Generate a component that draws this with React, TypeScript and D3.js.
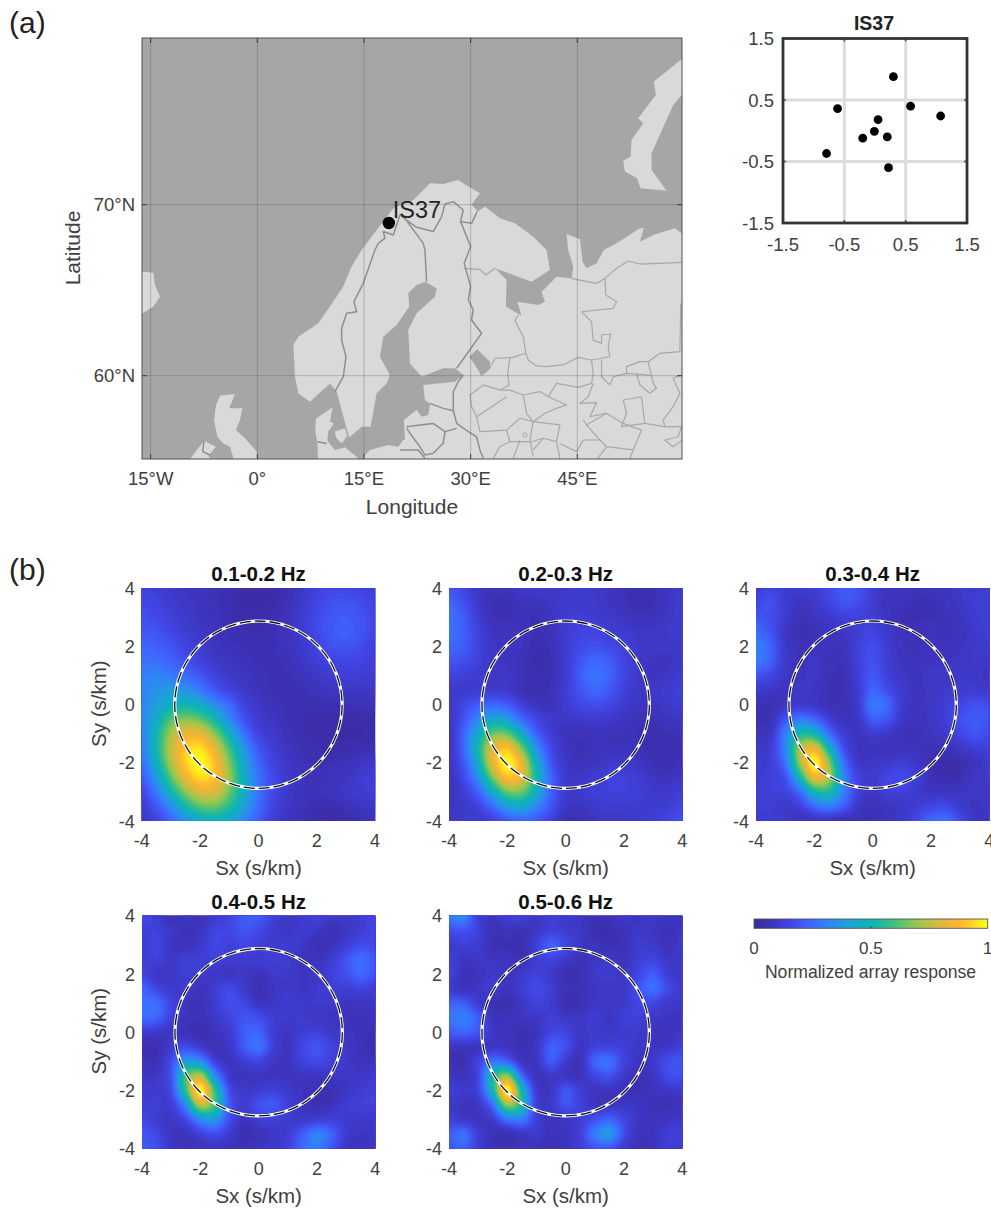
import React, { useMemo } from "react";
import * as d3 from "d3";

type P = [number, number];

// ---------- map data (lon, lat) ----------
const mainlandCoast: P[] = [
  [5.06, 61.79], [5.76, 62.28], [8.58, 63.06], [10.22, 64.04], [12.09, 65.21], [13.26, 66.38], [14.67, 67.35],
  [19.12, 69.79], [21.93, 70.28], [24.28, 71.25], [26.15, 71.21], [28.26, 71.45], [29.67, 71.06], [31.31, 70.67],
  [30.13, 69.99], [31.07, 69.6], [32.01, 69.89], [34.12, 69.21], [36.23, 68.91], [38.8, 68.13], [40.68, 67.35],
  [41.15, 66.18], [38.57, 65.5], [33.42, 66.28], [35.06, 65.6], [34.96, 64.04], [37.16, 63.51], [36.55, 64.33],
  [39.51, 64.13], [40.44, 64.33], [39.98, 64.91], [42.08, 65.79], [44.19, 65.69], [44.43, 66.38], [43.72, 67.35],
  [43.49, 68.29], [45.36, 67.98], [45.6, 67.2], [45.74, 66.67], [46.3, 66.28], [47.71, 66.57], [48.74, 67.35],
  [50.52, 67.74], [53.8, 68.62], [54.36, 68.62], [53.8, 67.84], [55.67, 68.23], [58.72, 68.62], [59.8, 68.29],
  [61, 68], [61, 54], [14.5, 54], [14.9, 55.23], [15.84, 55.65], [18.42, 55.95], [19.82, 55.85], [20.53, 56.24],
  [20.76, 56.24], [20.62, 57.41], [22.4, 57.99], [23.11, 57.6], [24.04, 57.7], [24.28, 58.38], [23.57, 58.58],
  [23.34, 59.46], [27.79, 59.65], [28.96, 60.04], [27.79, 60.43], [26.15, 60.43], [23.11, 59.94], [21.47, 60.72],
  [21.23, 62.67], [22.4, 63.65], [24.98, 64.62], [25.21, 65.11], [23.57, 65.5], [22.4, 65.3], [21.23, 64.82],
  [21.37, 64.04], [19.59, 62.96], [17.71, 62.28], [17.25, 61.11], [18.65, 60.04], [18.18, 59.55], [16.78, 58.97],
  [15.93, 57.02], [14.67, 57.02], [12.93, 56.39], [12.56, 56.92], [11.15, 59.07], [10.22, 59.55], [7.4, 58.48],
  [5.76, 58.97], [5.3, 59.94],
];
const iceland: P[] = [[-18, 66.1], [-16.12, 66.08], [-14.62, 66.02], [-14.39, 65.3], [-13.68, 64.62], [-14.62, 64.04], [-16.12, 63.65], [-18, 63.3]];
const greatBritain: P[] = [
  [-5.25, 58.83], [-3.14, 58.93], [-3.94, 58.09], [-2.11, 58.09], [-2.44, 57.41], [-3.0, 56.82], [-1.73, 56.34], [-0.09, 55.56],
  [0.14, 54.87], [-3.14, 54.87], [-3.84, 55.85], [-4.78, 56.04], [-5.62, 56.43], [-6.09, 57.41], [-5.81, 58.29],
];
const ireland: P[] = [[-9.93, 54.87], [-7.5, 56.2], [-5.81, 55.85], [-6.89, 55.3], [-5.95, 54.87]];
const jutland: P[] = [
  [8.25, 57.5], [10.59, 58.15], [10.22, 57.31], [10.78, 57.21], [9.98, 56.73], [9.84, 56.2], [10.92, 55.65], [12.32, 55.81],
  [14.06, 55.23], [14.06, 54.68], [8.58, 54.68], [8.44, 56.04], [8.15, 56.82],
];
const zealand: P[] = [[10.92, 56.73], [12.32, 56.92], [12.65, 56.47], [11.86, 56.04], [11.06, 56.39]];
const novayaZemlya: P[] = [
  [61, 78.8], [59.66, 78.5], [55.77, 77.2], [56.05, 76.42], [53.57, 75.06], [54.27, 74.76], [52.63, 73.79], [52.49, 72.81], [51.46, 72.58],
  [51.69, 71.94], [53.42, 71.55], [53.89, 70.96], [57.55, 70.82], [55.44, 72.03], [55.44, 73.01], [58.49, 75.83], [59.66, 76.42], [61, 76.2],
];
const ladoga: P[] = [[29.81, 61.11], [30.93, 61.54], [32.71, 60.82], [32.85, 60.43], [31.54, 59.98], [30.6, 60.63]];
const landPolygons = [mainlandCoast, iceland, greatBritain, ireland, jutland, zealand, novayaZemlya];

const countryBorders: P[][] = [
  [[10.92, 59.07], [12.09, 59.94], [12.47, 61.11], [11.86, 62.09], [11.86, 62.77], [12.56, 63.65], [13.97, 63.74], [13.59, 64.33], [14.9, 65.4],
   [16.54, 67.35], [17.01, 67.74], [17.95, 68.04], [17.71, 68.43], [19.12, 68.23], [20.06, 69.4], [20.99, 69.1], [22.4, 68.68], [24.75, 68.43],
   [25.92, 69.3], [26.39, 70.04], [27.56, 70.18], [28.96, 69.69], [28.59, 69.01], [30.13, 68.91], [30.93, 69.6]],
  [[20.99, 69.07], [23.34, 67.74], [23.57, 67.35], [23.72, 66.18], [23.81, 65.5]],
  [[28.59, 69.01], [30.0, 67.55], [29.1, 66.57], [30.0, 65.21], [29.67, 64.43], [30.37, 63.84], [30.13, 63.26], [31.54, 62.48], [28.03, 60.43]],
  [[28.96, 60.04], [28.26, 59.65], [27.56, 59.07], [27.56, 57.99], [28.03, 57.21], [29.67, 56.73], [30.84, 56.43], [31.31, 55.66], [31.78, 55.17]],
  [[24.28, 58.38], [26.15, 58.09], [27.56, 57.95]],
  [[20.99, 57.02], [22.87, 57.12], [24.75, 57.21], [26.39, 56.73], [28.03, 56.92]],
  [[26.39, 56.73], [26.15, 56.05], [24.75, 55.46], [23.57, 55.36], [22.87, 55.85], [22.17, 56.24], [20.99, 56.92]],
  [[20.06, 55.66], [22.64, 55.66], [23.57, 55.17]],
  [[8.44, 56.14], [9.75, 56.04]],
  [[-7.5, 56.2], [-7.68, 55.56], [-6.65, 55.36]],
];
const regionBorders: P[][] = [
  [[29.1, 66.28], [31.31, 66.22], [32.15, 65.89], [33.42, 66.28]],
  [[44.19, 65.69], [45.13, 65.6], [47.71, 65.4], [48.88, 65.69], [50.52, 66.28], [52.16, 66.71], [53.8, 66.53], [59.8, 66.63]],
  [[48.88, 65.69], [49.02, 64.72], [50.52, 64.33], [50.05, 63.94], [45.6, 63.74], [47.0, 63.16], [47.24, 62.09], [48.41, 61.89], [48.41, 62.38],
   [49.68, 62.44], [49.35, 61.7], [49.58, 61.11], [47.0, 60.92], [45.13, 61.07], [43.02, 60.63], [40.68, 60.53], [39.27, 60.57], [38.1, 60.92],
   [37.77, 61.31], [37.4, 62.28], [36.23, 63.22], [36.7, 63.55]],
  [[37.77, 61.31], [35.99, 61.07], [33.42, 61.02], [32.95, 60.63]],
  [[35.52, 61.07], [35.2, 60.04], [35.43, 59.46], [34.12, 59.16], [31.78, 59.46], [29.9, 58.87], [30.14, 58.19], [30.84, 57.6], [31.31, 56.73]],
  [[34.12, 59.16], [35.52, 59.16], [37.4, 58.87], [39.74, 59.07], [40.91, 58.77], [42.08, 59.55], [45.13, 59.32], [47.0, 59.55], [47.24, 60.14], [47.0, 60.92]],
  [[48.41, 60.92], [48.41, 59.94], [49.58, 59.46], [50.05, 59.94], [51.92, 60.14], [55.2, 60.04]],
  [[51.92, 60.14], [51.92, 60.53], [53.8, 60.82], [54.97, 60.82], [56.61, 61.31], [59.42, 61.41], [59.56, 64.23]],
  [[54.97, 60.82], [55.67, 59.55], [56.14, 59.26], [55.2, 58.97], [53.8, 59.46], [53.33, 60.14]],
  [[47.24, 59.55], [46.54, 58.77], [45.37, 58.38], [47.71, 58.42], [46.77, 57.6], [49.11, 57.8], [51.46, 57.21], [54.03, 56.82], [52.86, 55.66], [52.39, 55.17]],
  [[37.4, 58.87], [37.87, 57.8], [38.8, 57.31], [40.44, 57.8], [42.08, 58.09], [43.49, 58.29], [40.91, 58.77]],
  [[30.84, 57.6], [35.05, 58.77]],
  [[38.8, 57.31], [38.34, 56.24], [38.8, 55.27]],
  [[31.31, 56.73], [35.05, 56.82], [36.93, 57.51], [38.8, 57.31], [42.55, 57.12], [42.08, 56.14], [42.55, 55.17]],
  [[35.05, 56.82], [35.52, 56.14], [38.57, 56.14], [40.21, 56.34], [42.08, 56.14]],
  [[45.83, 57.41], [46.3, 57.12], [49.11, 57.8]],
  [[46.3, 57.12], [48.18, 56.24], [45.83, 56.24], [44.9, 55.56], [42.55, 56.04]],
  [[51.46, 58.58], [54.03, 58.77], [54.5, 57.21], [51.22, 57.02], [51.92, 57.8], [51.46, 58.58]],
  [[54.5, 57.21], [57.31, 57.02], [57.08, 57.41], [58.47, 58.19], [59.42, 58.97], [58.47, 59.85], [59.8, 60.04]],
  [[57.31, 57.02], [59.66, 57.02], [59.19, 56.43], [57.31, 56.24], [58.47, 55.85], [59.8, 56.24]],
  [[35.52, 56.14], [34.12, 55.85], [33.18, 55.17]],
  [[36.93, 56.24], [35.99, 55.17]],
  [[40.21, 56.34], [38.8, 55.66]],
  [[48.18, 56.24], [49.11, 55.85], [52.86, 55.66]],
  [[49.11, 55.85], [47.71, 55.07]],
];
const moscowRing: P = [37.62, 56.53];
const station = { name: "IS37", lon: 18.5, lat: 68.93 };
const lonTicks = [-15, 0, 15, 30, 45];
const lonLabels = ["15°W", "0°", "15°E", "30°E", "45°E"];
const latTicks = [60, 70];
const latLabels = ["60°N", "70°N"];

// ---------- array geometry (km) ----------
const elementX = [0.3, 0.58, 1.07, -0.61, 0.05, -0.01, 0.2, -0.2, -0.79, 0.22];
const elementY = [0.88, 0.4, 0.24, 0.36, 0.18, -0.01, -0.1, -0.12, -0.37, -0.6];
const insetTicks = [-1.5, -0.5, 0.5, 1.5];
const insetGrid = [-0.5, 0.5];

// ---------- array response, percent; rows Sy = 4 ... -4, columns Sx = -4 ... 4, step 0.5 ----------
const resp01: number[][] = [
  [15, 13, 11, 9, 8, 7, 5, 3, 2, 3, 6, 10, 14, 16, 16, 15, 13],
  [17, 15, 12, 10, 9, 7, 5, 3, 3, 4, 7, 11, 16, 19, 20, 18, 15],
  [19, 17, 14, 11, 9, 7, 5, 4, 4, 5, 8, 12, 17, 21, 22, 20, 16],
  [21, 20, 16, 13, 10, 8, 6, 5, 5, 6, 8, 12, 17, 21, 23, 20, 16],
  [25, 23, 20, 15, 12, 9, 7, 6, 6, 6, 8, 11, 15, 19, 20, 18, 14],
  [28, 27, 24, 19, 15, 11, 9, 7, 6, 6, 7, 10, 13, 15, 16, 15, 13],
  [31, 32, 30, 26, 21, 15, 11, 9, 7, 6, 6, 8, 10, 12, 13, 13, 12],
  [32, 37, 39, 37, 30, 21, 15, 11, 8, 6, 6, 6, 8, 9, 10, 10, 10],
  [33, 40, 48, 51, 46, 35, 26, 15, 10, 7, 6, 5, 5, 6, 6, 7, 7],
  [34, 46, 62, 68, 64, 52, 34, 20, 12, 9, 6, 5, 4, 4, 4, 4, 4],
  [32, 51, 72, 84, 83, 69, 48, 28, 15, 11, 7, 5, 4, 3, 3, 3, 4],
  [30, 52, 76, 92, 96, 83, 60, 37, 21, 13, 9, 6, 5, 4, 4, 5, 6],
  [27, 48, 73, 93, 100, 90, 68, 43, 25, 15, 10, 7, 6, 6, 7, 9, 11],
  [22, 39, 63, 84, 95, 90, 71, 47, 28, 17, 11, 8, 7, 8, 9, 12, 14],
  [16, 30, 50, 69, 81, 80, 66, 46, 28, 17, 11, 8, 7, 8, 10, 12, 13],
  [12, 21, 35, 52, 63, 65, 56, 41, 26, 15, 10, 7, 5, 5, 7, 9, 10],
  [10, 15, 24, 35, 44, 48, 43, 33, 22, 13, 9, 6, 4, 3, 4, 6, 8],
];
const resp02: number[][] = [
  [20, 16, 10, 7, 8, 11, 11, 10, 11, 12, 11, 9, 7, 5, 6, 9, 12],
  [25, 19, 11, 6, 6, 8, 8, 10, 12, 12, 11, 9, 7, 5, 6, 9, 12],
  [28, 22, 13, 7, 6, 7, 6, 9, 12, 13, 12, 11, 9, 7, 8, 10, 12],
  [28, 23, 15, 9, 8, 8, 6, 8, 12, 15, 15, 13, 12, 10, 10, 11, 12],
  [25, 22, 15, 10, 9, 8, 5, 7, 12, 17, 19, 17, 14, 11, 10, 10, 10],
  [20, 18, 14, 10, 9, 7, 4, 6, 12, 20, 25, 22, 15, 11, 9, 9, 10],
  [15, 14, 12, 10, 10, 7, 5, 6, 12, 22, 28, 24, 16, 11, 9, 10, 12],
  [11, 12, 12, 12, 11, 7, 5, 7, 13, 20, 25, 21, 14, 10, 10, 12, 13],
  [10, 16, 22, 25, 22, 14, 9, 8, 12, 16, 18, 16, 12, 9, 9, 11, 12],
  [9, 20, 33, 44, 40, 26, 16, 11, 10, 11, 12, 11, 9, 7, 7, 9, 9],
  [9, 24, 46, 65, 65, 45, 24, 13, 8, 7, 8, 8, 7, 6, 5, 6, 7],
  [9, 25, 52, 82, 90, 67, 36, 17, 9, 6, 8, 8, 8, 7, 5, 5, 6],
  [9, 21, 47, 83, 100, 83, 47, 21, 10, 8, 9, 11, 11, 9, 6, 5, 7],
  [8, 17, 36, 67, 90, 82, 52, 25, 11, 10, 12, 14, 14, 12, 9, 8, 10],
  [8, 13, 24, 45, 65, 65, 46, 24, 12, 11, 13, 14, 14, 13, 11, 11, 13],
  [9, 11, 15, 26, 40, 44, 33, 20, 10, 9, 11, 12, 12, 12, 12, 13, 16],
  [11, 11, 11, 14, 20, 24, 21, 14, 6, 6, 9, 10, 10, 11, 13, 16, 20],
];
const resp03: number[][] = [
  [13, 15, 12, 12, 13, 17, 21, 20, 13, 9, 9, 8, 8, 9, 11, 12, 13],
  [16, 19, 12, 9, 11, 15, 20, 18, 12, 8, 8, 6, 6, 8, 10, 13, 14],
  [20, 18, 12, 7, 9, 11, 14, 14, 13, 9, 6, 6, 6, 7, 9, 12, 14],
  [26, 20, 10, 6, 7, 9, 10, 13, 15, 11, 8, 7, 8, 7, 8, 11, 13],
  [31, 24, 11, 7, 8, 8, 8, 14, 18, 12, 8, 7, 8, 8, 9, 11, 12],
  [30, 23, 11, 8, 10, 7, 7, 14, 19, 13, 9, 8, 9, 9, 10, 11, 10],
  [20, 16, 10, 9, 10, 7, 6, 13, 21, 14, 10, 9, 10, 10, 11, 10, 9],
  [11, 10, 9, 10, 9, 6, 6, 12, 24, 18, 11, 9, 10, 11, 12, 12, 11],
  [7, 6, 9, 12, 10, 7, 7, 12, 29, 25, 12, 9, 10, 13, 16, 19, 18],
  [6, 7, 20, 30, 25, 14, 8, 10, 22, 20, 10, 8, 10, 13, 19, 22, 20],
  [8, 10, 31, 53, 50, 27, 13, 9, 12, 11, 8, 7, 9, 11, 16, 20, 17],
  [10, 13, 33, 72, 84, 50, 19, 9, 9, 8, 8, 8, 7, 7, 10, 13, 14],
  [11, 14, 28, 70, 100, 70, 28, 11, 10, 11, 13, 10, 6, 4, 5, 8, 11],
  [12, 14, 19, 50, 84, 73, 34, 15, 12, 16, 17, 13, 7, 5, 6, 10, 11],
  [13, 14, 15, 26, 50, 54, 32, 14, 10, 13, 14, 11, 9, 9, 9, 10, 10],
  [13, 13, 11, 14, 25, 30, 22, 10, 7, 9, 10, 13, 16, 17, 12, 9, 10],
  [11, 12, 11, 8, 8, 8, 6, 6, 6, 8, 11, 17, 25, 27, 18, 10, 9],
];
const resp04: number[][] = [
  [18, 12, 6, 10, 7, 11, 15, 22, 22, 14, 9, 11, 14, 11, 11, 13, 16],
  [13, 14, 10, 7, 9, 15, 16, 20, 17, 12, 10, 12, 10, 6, 10, 13, 16],
  [11, 15, 9, 8, 11, 16, 14, 16, 13, 12, 12, 10, 6, 8, 13, 18, 17],
  [12, 14, 10, 13, 13, 14, 12, 12, 12, 13, 12, 8, 8, 12, 20, 26, 21],
  [15, 10, 10, 13, 12, 10, 9, 10, 8, 11, 11, 9, 10, 14, 19, 25, 20],
  [24, 16, 11, 11, 8, 12, 17, 11, 6, 9, 11, 9, 11, 13, 13, 15, 13],
  [28, 26, 16, 9, 7, 12, 18, 16, 9, 10, 12, 11, 11, 11, 9, 9, 9],
  [26, 24, 14, 8, 7, 10, 15, 20, 18, 13, 11, 11, 10, 9, 8, 7, 9],
  [12, 11, 9, 7, 5, 8, 12, 22, 24, 13, 9, 13, 14, 11, 9, 7, 6],
  [6, 6, 12, 18, 12, 7, 10, 22, 28, 14, 9, 16, 20, 15, 10, 7, 5],
  [7, 7, 18, 38, 35, 14, 9, 13, 15, 10, 9, 14, 17, 14, 11, 8, 8],
  [10, 10, 20, 60, 75, 35, 11, 9, 9, 9, 9, 9, 9, 10, 10, 10, 12],
  [12, 12, 18, 58, 100, 58, 18, 11, 12, 14, 11, 8, 6, 6, 9, 12, 14],
  [13, 13, 13, 35, 75, 60, 22, 12, 19, 21, 14, 8, 6, 8, 12, 14, 14],
  [16, 12, 10, 17, 35, 38, 18, 8, 13, 14, 12, 11, 13, 14, 12, 11, 11],
  [20, 16, 9, 8, 14, 18, 12, 5, 7, 10, 13, 22, 32, 24, 12, 9, 11],
  [22, 18, 10, 8, 8, 9, 7, 7, 9, 11, 14, 26, 30, 20, 10, 8, 10],
];
const resp05: number[][] = [
  [30, 34, 13, 9, 13, 14, 9, 13, 11, 9, 7, 7, 10, 9, 11, 9, 8],
  [18, 20, 14, 7, 8, 7, 10, 14, 12, 10, 5, 5, 8, 10, 9, 7, 10],
  [11, 14, 12, 6, 6, 5, 14, 23, 16, 10, 8, 6, 7, 12, 11, 8, 11],
  [14, 9, 10, 9, 8, 7, 12, 15, 11, 7, 9, 10, 8, 13, 15, 10, 11],
  [15, 8, 8, 11, 9, 11, 14, 11, 5, 6, 11, 12, 10, 16, 22, 13, 10],
  [12, 8, 10, 12, 8, 13, 17, 13, 7, 7, 9, 10, 10, 20, 27, 17, 11],
  [23, 22, 12, 7, 5, 10, 14, 12, 5, 6, 10, 10, 11, 16, 16, 11, 11],
  [28, 31, 22, 8, 8, 9, 10, 13, 10, 10, 12, 9, 13, 14, 11, 9, 9],
  [22, 24, 20, 10, 8, 6, 8, 16, 15, 10, 12, 10, 12, 11, 9, 8, 10],
  [9, 9, 8, 10, 9, 6, 10, 23, 19, 9, 14, 15, 13, 10, 9, 10, 14],
  [6, 6, 15, 28, 24, 9, 9, 22, 12, 8, 24, 27, 15, 9, 11, 18, 20],
  [10, 8, 16, 52, 70, 26, 8, 11, 9, 8, 16, 19, 11, 7, 9, 17, 19],
  [14, 11, 16, 50, 100, 50, 12, 10, 20, 13, 9, 9, 7, 6, 8, 10, 12],
  [11, 9, 10, 27, 70, 52, 15, 11, 20, 14, 9, 9, 10, 9, 7, 6, 8],
  [14, 11, 9, 12, 28, 30, 14, 8, 10, 13, 19, 24, 16, 9, 8, 9, 11],
  [22, 27, 13, 7, 6, 9, 11, 8, 9, 14, 30, 38, 18, 8, 9, 13, 14],
  [20, 24, 13, 7, 7, 9, 8, 5, 8, 13, 20, 20, 11, 7, 8, 12, 12],
];
const bandLabels = ["0.1-0.2 Hz", "0.2-0.3 Hz", "0.3-0.4 Hz", "0.4-0.5 Hz", "0.5-0.6 Hz"];
const bandResponses = [resp01, resp02, resp03, resp04, resp05];
const slownessTicks = [-4, -2, 0, 2, 4];
const horizonRadius = 2.87;

const cmapStops = [0, 0.08, 0.16, 0.24, 0.32, 0.4, 0.5, 0.6, 0.7, 0.8, 0.88, 1];
const cmapColors = ["#3b2a9e", "#3d35c0", "#4147e6", "#3f66ff", "#2f86f5", "#1ea0d8", "#0cb5b4", "#40c07e", "#9cc74e", "#dcb93c", "#ffb52e", "#ffff14"];
const colorScale = d3.scaleLinear<string>().domain(cmapStops).range(cmapColors).clamp(true);

const FONT = "'Liberation Sans', Arial, sans-serif";
const TEXT = "#404040";

function catmull(a: number, b: number, c: number, d: number, t: number) {
  return 0.5 * (2 * b + (c - a) * t + (2 * a - 5 * b + 4 * c - d) * t * t + (3 * b - a - 3 * c + d) * t * t * t);
}

function upsample(grid: number[][], f: number) {
  const n = grid.length;
  const m = (n - 1) * f + 1;
  const out = new Array(m * m);
  const at = (r: number, c: number) => grid[Math.max(0, Math.min(n - 1, r))][Math.max(0, Math.min(n - 1, c))] / 100;
  for (let j = 0; j < m; j++) {
    const r = Math.min(n - 2, Math.floor(j / f));
    const tr = j / f - r;
    for (let i = 0; i < m; i++) {
      const c = Math.min(n - 2, Math.floor(i / f));
      const tc = i / f - c;
      const row = [-1, 0, 1, 2].map((dr) =>
        catmull(at(r + dr, c - 1), at(r + dr, c), at(r + dr, c + 1), at(r + dr, c + 2), tc)
      );
      out[j * m + i] = catmull(row[0], row[1], row[2], row[3], tr);
    }
  }
  return { values: out as number[], size: m };
}

function ResponsePanel({ idx, left, top }: { idx: number; left: number; top: number }) {
  const w = 233.3;
  const h = 232.8;
  const x = d3.scaleLinear().domain([-4, 4]).range([left, left + w]);
  const y = d3.scaleLinear().domain([-4, 4]).range([top + h, top]);
  const paths = useMemo(() => {
    const { values, size } = upsample(bandResponses[idx], 8);
    const thresholds = d3.range(0, 1.02, 1 / 64);
    const gx = d3.scaleLinear().domain([0.5, size - 0.5]).range([-4, 4]);
    const gy = d3.scaleLinear().domain([0.5, size - 0.5]).range([4, -4]);
    const proj = d3.geoTransform({
      point(px: number, py: number) {
        (this as any).stream.point(x(gx(px)), y(gy(py)));
      },
    });
    const path = d3.geoPath(proj);
    return d3.contours().size([size, size]).thresholds(thresholds)(values).map((c) => ({
      d: path(c as any) || "",
      v: c.value,
    }));
  }, [idx, left, top]);
  const clip = `panel-${idx}`;
  const leftCol = idx === 0 || idx === 3;
  return (
    <g fontFamily={FONT}>
      <clipPath id={clip}>
        <rect x={left} y={top} width={w} height={h} />
      </clipPath>
      <g clipPath={`url(#${clip})`}>
        <rect x={left} y={top} width={w} height={h} fill={colorScale(0)} />
        {paths.map((p, i) => (
          <path key={i} d={p.d} fill={colorScale(p.v)} />
        ))}
      </g>
      <circle cx={x(0)} cy={y(0)} r={x(horizonRadius) - x(0)} fill="none" stroke="#fff" strokeWidth={3.2} />
      <circle cx={x(0)} cy={y(0)} r={x(horizonRadius) - x(0)} fill="none" stroke="#111" strokeWidth={1.3} strokeDasharray="11 4" />
      <text x={left + w / 2} y={top - 7} textAnchor="middle" fontSize={20.5} fontWeight="bold" fill="#111">
        {bandLabels[idx]}
      </text>
      {slownessTicks.map((t) => (
        <text key={"x" + t} x={x(t)} y={top + h + 26} textAnchor="middle" fontSize={18} fill={TEXT}>
          {t}
        </text>
      ))}
      {slownessTicks.map((t) => (
        <text key={"y" + t} x={left - 7} y={y(t) + 6.5} textAnchor="end" fontSize={18} fill={TEXT}>
          {t}
        </text>
      ))}
      <text x={left + w / 2} y={top + h + 54} textAnchor="middle" fontSize={20.5} fill={TEXT}>
        Sx (s/km)
      </text>
      {leftCol && (
        <text
          transform={`translate(${left - 36},${top + h / 2 - 1}) rotate(-90)`}
          textAnchor="middle"
          fontSize={20.5}
          fill={TEXT}
        >
          Sy (s/km)
        </text>
      )}
    </g>
  );
}

export default function App() {
  const lon = d3.scaleLinear().domain([0, 45]).range([257.3, 577.3]);
  const lat = d3.scaleLinear().domain([60, 70]).range([375.7, 204.7]);
  const mapL = 142, mapR = 682, mapT = 38, mapB = 459;
  const geoLine = d3.line<P>().x((d) => lon(d[0])).y((d) => lat(d[1]));
  const closed = (p: P[]) => geoLine(p) + "Z";

  const ix = d3.scaleLinear().domain([-1.5, 1.5]).range([783, 967]);
  const iy = d3.scaleLinear().domain([-1.5, 1.5]).range([223, 38.5]);

  const cbL = 754, cbR = 987.7, cbT = 919, cbB = 928.3;
  const cb = d3.scaleLinear().domain([0, 1]).range([cbL, cbR]);

  return (
    <svg
      width={991}
      height={1209}
      viewBox="0 0 991 1209"
      style={{ position: "absolute", left: 0, top: 0, display: "block", background: "#fff" }}
      fontFamily={FONT}
    >
      <defs>
        <clipPath id="mapclip">
          <rect x={mapL} y={mapT} width={mapR - mapL} height={mapB - mapT} />
        </clipPath>
        <linearGradient id="cbgrad" x1="0" x2="1" y1="0" y2="0">
          {cmapStops.map((s, i) => (
            <stop key={i} offset={s} stopColor={cmapColors[i]} />
          ))}
        </linearGradient>
      </defs>

      <text x={9} y={33} fontSize={30} fill="#222">(a)</text>
      <text x={9} y={580} fontSize={30} fill="#222">(b)</text>

      {/* Map */}
      <g clipPath="url(#mapclip)">
        <rect x={mapL} y={mapT} width={mapR - mapL} height={mapB - mapT} fill="#a6a6a6" />
        {landPolygons.map((p, i) => (
          <path key={i} d={closed(p)} fill="#d9d9d9" />
        ))}
        <path d={closed(ladoga)} fill="#a6a6a6" />
        {regionBorders.map((b, i) => (
          <path key={i} d={geoLine(b) || ""} fill="none" stroke="#a8a8a8" strokeWidth={1.2} strokeLinejoin="round" />
        ))}
        <circle cx={lon(moscowRing[0])} cy={lat(moscowRing[1])} r={2.2} fill="none" stroke="#a8a8a8" strokeWidth={1} />
        {countryBorders.map((b, i) => (
          <path key={i} d={geoLine(b) || ""} fill="none" stroke="#8f8f8f" strokeWidth={1.5} strokeLinejoin="round" />
        ))}
        {lonTicks.map((t) => (
          <line key={t} x1={lon(t)} x2={lon(t)} y1={mapT} y2={mapB} stroke="#555" strokeOpacity={0.4} strokeWidth={0.8} />
        ))}
        {latTicks.map((t) => (
          <line key={t} x1={mapL} x2={mapR} y1={lat(t)} y2={lat(t)} stroke="#555" strokeOpacity={0.4} strokeWidth={0.8} />
        ))}
      </g>
      <rect x={mapL} y={mapT} width={mapR - mapL} height={mapB - mapT} fill="none" stroke="#5c5c5c" strokeWidth={1.1} />
      {lonTicks.map((t) => (
        <g key={t} stroke="#333" strokeWidth={0.9}>
          <line x1={lon(t)} x2={lon(t)} y1={mapT} y2={mapT + 5} />
          <line x1={lon(t)} x2={lon(t)} y1={mapB} y2={mapB - 5} />
        </g>
      ))}
      {latTicks.map((t) => (
        <g key={t} stroke="#333" strokeWidth={0.9}>
          <line x1={mapL} x2={mapL + 5} y1={lat(t)} y2={lat(t)} />
          <line x1={mapR} x2={mapR - 5} y1={lat(t)} y2={lat(t)} />
        </g>
      ))}
      {lonTicks.map((t, i) => (
        <text key={t} x={lon(t)} y={485} textAnchor="middle" fontSize={18.5} fill={TEXT}>
          {lonLabels[i]}
        </text>
      ))}
      {latTicks.map((t, i) => (
        <text key={t} x={135} y={lat(t) + 6.5} textAnchor="end" fontSize={18.5} fill={TEXT}>
          {latLabels[i]}
        </text>
      ))}
      <text x={412} y={514} textAnchor="middle" fontSize={21} fill={TEXT}>Longitude</text>
      <text transform="translate(80,248) rotate(-90)" textAnchor="middle" fontSize={21} fill={TEXT}>Latitude</text>
      <circle cx={lon(station.lon)} cy={lat(station.lat)} r={6.2} fill="#000" />
      <text x={lon(station.lon) + 4} y={lat(station.lat) - 5} fontSize={23.5} fill="#222">{station.name}</text>

      {/* Inset */}
      {insetGrid.map((t) => (
        <g key={t} stroke="#dcdcdc" strokeWidth={3}>
          <line x1={ix(t)} x2={ix(t)} y1={iy(-1.5)} y2={iy(1.5)} />
          <line x1={ix(-1.5)} x2={ix(1.5)} y1={iy(t)} y2={iy(t)} />
        </g>
      ))}
      {insetGrid.map((t) => (
        <g key={"t" + t} stroke="#555" strokeWidth={1.5}>
          <line x1={ix(t)} x2={ix(t)} y1={iy(-1.5)} y2={iy(-1.5) - 3} />
          <line x1={ix(t)} x2={ix(t)} y1={iy(1.5)} y2={iy(1.5) + 3} />
          <line x1={ix(-1.5)} x2={ix(-1.5) + 3} y1={iy(t)} y2={iy(t)} />
          <line x1={ix(1.5)} x2={ix(1.5) - 3} y1={iy(t)} y2={iy(t)} />
        </g>
      ))}
      <rect x={ix(-1.5)} y={iy(1.5)} width={ix(1.5) - ix(-1.5)} height={iy(-1.5) - iy(1.5)} fill="none" stroke="#333" strokeWidth={2.8} />
      {elementX.map((vx, i) => (
        <circle key={i} cx={ix(vx)} cy={iy(elementY[i])} r={4.4} fill="#000" />
      ))}
      <text x={874} y={30} textAnchor="middle" fontSize={19.5} fontWeight="bold" fill="#222">{station.name}</text>
      {insetTicks.map((t) => (
        <text key={"x" + t} x={ix(t)} y={251} textAnchor="middle" fontSize={18.5} fill={TEXT}>{t.toFixed(1)}</text>
      ))}
      {insetTicks.map((t) => (
        <text key={"y" + t} x={774} y={iy(t) + 6.5} textAnchor="end" fontSize={18.5} fill={TEXT}>{t.toFixed(1)}</text>
      ))}

      {/* Panels */}
      <ResponsePanel idx={0} left={141.8} top={588.3} />
      <ResponsePanel idx={1} left={449} top={588.3} />
      <ResponsePanel idx={2} left={756} top={588.3} />
      <ResponsePanel idx={3} left={142} top={915.8} />
      <ResponsePanel idx={4} left={449} top={915.8} />

      {/* Colorbar */}
      <rect x={cbL} y={cbT} width={cbR - cbL} height={cbB - cbT} fill="url(#cbgrad)" stroke="#555" strokeWidth={0.9} />
      <line x1={cb(0.5)} x2={cb(0.5)} y1={cbB} y2={cbB - 2} stroke="#333" strokeWidth={0.8} />
      {[0, 0.5, 1].map((t) => (
        <text key={t} x={cb(t)} y={954} textAnchor="middle" fontSize={17} fill={TEXT}>{t}</text>
      ))}
      <text x={870.5} y={978} textAnchor="middle" fontSize={17.6} fill={TEXT}>Normalized array response</text>
    </svg>
  );
}
